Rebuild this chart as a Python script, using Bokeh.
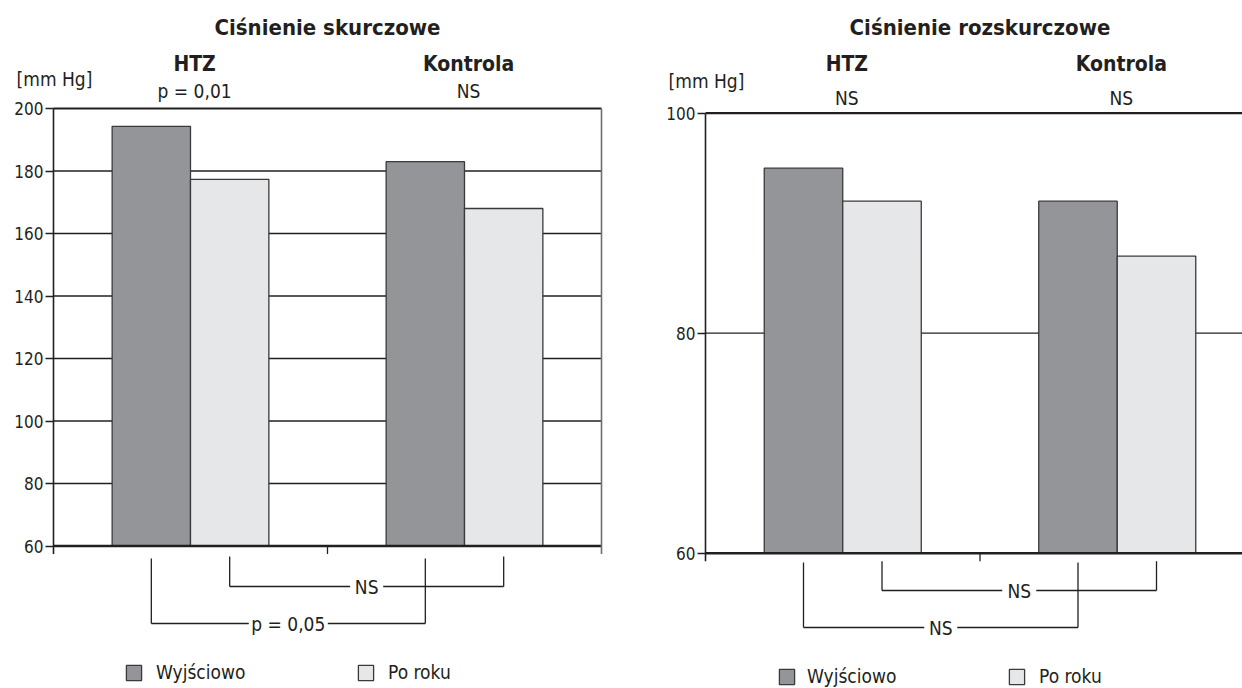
from bokeh.plotting import figure
from bokeh.models import Range1d, FixedTicker, Legend, LegendItem
from bokeh.layouts import row
from bokeh.core.properties import value
from bokeh.embed import file_html
from bokeh.resources import INLINE

# ---------------- data ----------------
groups = ["HTZ", "Kontrola"]
series = ["Wyjściowo", "Po roku"]
sys_base = [194.3, 183.0]
sys_year = [177.3, 168.0]
dia_base = [95.0, 92.0]
dia_year = [92.0, 87.0]
sys_ticks = [60, 80, 100, 120, 140, 160, 180, 200]
dia_ticks = [60, 80, 100]
sys_within = ["p = 0,01", "NS"]
dia_within = ["NS", "NS"]
# between-group comparisons: (series index, label)
sys_between = [(1, "NS"), (0, "p = 0,05")]
dia_between = [(1, "NS"), (0, "NS")]
titles = ["Ciśnienie skurczowe", "Ciśnienie rozskurczowe"]
unit = "[mm Hg]"

# ---------------- style ----------------
FONT = "DejaVu Sans Condensed"
INK = "#231f20"
DARK = "#939598"
LIGHT = "#e6e7e8"
EDGE = "#3a3a3c"
H = 688


def panel(title, base, year, ticks, within, between, W, L, cat_px,
          y_top_page, y_bot_page, brackets_px, leg_pos, leg_standoff, right_border,
          unit_y, within_y):
    ylo, yhi = ticks[0], ticks[-1]
    k = (y_bot_page - y_top_page) / (yhi - ylo)
    y_end = yhi + y_top_page / k
    y_start = ylo - (H - y_bot_page) / k
    x_start = -L / cat_px
    x_end = (W - L) / cat_px
    p = figure(width=W, height=H, x_range=Range1d(x_start, x_end), y_range=Range1d(y_start, y_end),
               min_border_left=0, min_border_right=0, min_border_top=0, min_border_bottom=0,
               x_axis_location=None, toolbar_location=None, output_backend="svg",
               outline_line_color=None, background_fill_color="white", border_fill_color="white")
    p.grid.visible = False
    ax = p.yaxis[0]
    ax.fixed_location = 0
    ax.ticker = FixedTicker(ticks=ticks)
    ax.axis_line_color = None
    ax.major_tick_out = 8
    ax.major_tick_in = 0
    ax.minor_tick_out = 0
    ax.minor_tick_in = 0
    ax.major_tick_line_color = INK
    ax.major_tick_line_width = 1.3
    ax.major_label_standoff = 2
    ax.major_label_text_font = FONT
    ax.major_label_text_font_size = "17px"
    ax.major_label_text_color = INK

    def dy(px):
        return px / k

    def X(px):
        return px / cat_px

    def Y(page_y):
        return yhi + (y_top_page - page_y) / k

    ncat = len(groups)
    xr = min(ncat, x_end)
    # gridlines
    g = ticks[1:-1]
    p.segment(x0=[0] * len(g), y0=g, x1=[xr] * len(g), y1=g, line_color=INK, line_width=1.3)
    # bars
    off, bw = 0.143, 0.286
    xs_dark = [i + 0.5 - off for i in range(ncat)]
    xs_light = [i + 0.5 + off for i in range(ncat)]
    r_dark = p.vbar(x=xs_dark, top=base, bottom=ylo, width=bw, fill_color=DARK,
                    line_color=EDGE, line_width=1.3)
    r_light = p.vbar(x=xs_light, top=year, bottom=ylo, width=bw, fill_color=LIGHT,
                     line_color=EDGE, line_width=1.3)
    # frame lines
    p.segment(x0=[0], y0=[yhi], x1=[xr], y1=[yhi], line_color=INK, line_width=2.2)
    p.segment(x0=[0], y0=[ylo], x1=[xr], y1=[ylo], line_color=INK, line_width=2.4)
    p.segment(x0=[0], y0=[ylo - dy(8)], x1=[0], y1=[yhi], line_color=INK, line_width=1.6)
    cat_ticks = [i for i in range(1, ncat + 1) if i < x_end]
    if right_border:
        p.segment(x0=[ncat], y0=[ylo - dy(8)], x1=[ncat], y1=[yhi], line_color="#6d6e71", line_width=1.6)
        cat_ticks = [i for i in range(1, ncat)]
    p.segment(x0=cat_ticks, y0=[ylo] * len(cat_ticks), x1=cat_ticks,
              y1=[ylo - dy(8)] * len(cat_ticks), line_color=INK, line_width=1.3)

    # headings
    p.text(x=[ncat / 2], y=[Y(27)], text=[title], text_font=value(FONT), text_font_size="22px",
           text_font_style="bold", text_align="center", text_baseline="middle", text_color=INK)
    p.text(x=[i + 0.515 for i in range(ncat)], y=[Y(63)] * ncat, text=groups, text_font=value(FONT),
           text_font_size="21px", text_font_style="bold", text_align="center",
           text_baseline="middle", text_color=INK)
    p.text(x=[i + 0.515 for i in range(ncat)], y=[Y(within_y)] * ncat, text=within,
           text_font=value(FONT), text_font_size="19px", text_align="center",
           text_baseline="middle", text_color=INK)
    p.text(x=[X(1)], y=[Y(unit_y)], text=[unit], text_font=value(FONT), text_font_size="19px",
           text_align="center", text_baseline="middle", text_color=INK)

    # brackets between groups
    for (si, lab), (top_px, bot_px, half_gap) in zip(between, brackets_px):
        xs = xs_dark if si == 0 else xs_light
        xa, xb = xs[0], xs[1]
        yt = ylo - dy(top_px)
        yb = ylo - dy(bot_px)
        xm = (xa + xb) / 2
        gap = X(half_gap)
        p.segment(x0=[xa, xb], y0=[yt, yt], x1=[xa, xb], y1=[yb, yb], line_color=INK, line_width=1.3)
        p.segment(x0=[xa, xm + gap], y0=[yb, yb], x1=[xm - gap, xb], y1=[yb, yb],
                  line_color=INK, line_width=1.3)
        p.text(x=[xm], y=[yb], text=[lab], text_font=value(FONT), text_font_size="19px",
               text_align="center", text_baseline="middle", text_color=INK)

    # legend
    for r, lab, (lx, ly), so in zip([r_dark, r_light], series, leg_pos, leg_standoff):
        leg = Legend(items=[LegendItem(label=lab, renderers=[r])], location=(lx, ly),
                     orientation="horizontal", glyph_width=19, glyph_height=19, label_height=19,
                     label_standoff=so, padding=0, margin=0, border_line_color=None,
                     background_fill_alpha=0, label_text_font=FONT,
                     label_text_font_size="19px", label_text_color=INK)
        p.add_layout(leg, "center")
    return p


p1 = panel(titles[0], sys_base, sys_year, sys_ticks, sys_within, sys_between,
           W=620, L=53, cat_px=274.0, y_top_page=108.0, y_bot_page=545.5,
           brackets_px=[(10.5, 40.5, 16.5), (12.5, 77.5, 39.5)],
           leg_pos=[(124, 5), (356, 5)], leg_standoff=[13, 13], right_border=True,
           unit_y=78, within_y=90)
p2 = panel(titles[1], dia_base, dia_year, dia_ticks, dia_within, dia_between,
           W=622, L=85, cat_px=274.5, y_top_page=112.7, y_bot_page=552.7,
           brackets_px=[(8, 37.3, 17), (9.3, 74.3, 16.5)],
           leg_pos=[(157, 1), (387, 1)], leg_standoff=[11, 13], right_border=False,
           unit_y=80, within_y=97)

layout = row(p1, p2)
open("out.html", "w").write(file_html(layout, INLINE))
